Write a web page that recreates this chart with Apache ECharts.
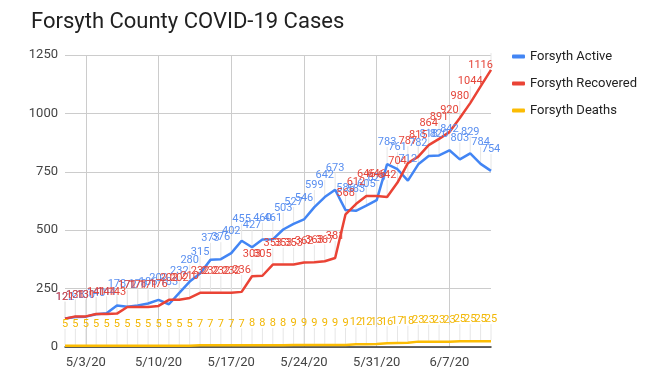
<!DOCTYPE html>
<html><head><meta charset="utf-8">
<script src="https://cdn.jsdelivr.net/npm/echarts@6/dist/echarts.min.js"></script>
<style>html,body{margin:0;padding:0;background:#fff}#c{width:650px;height:391px}</style>
</head><body><div id="c"></div>
<script>
const dates = ['5/1/20','5/2/20','5/3/20','5/4/20','5/5/20','5/6/20','5/7/20','5/8/20','5/9/20','5/10/20',
  '5/11/20','5/12/20','5/13/20','5/14/20','5/15/20','5/16/20','5/17/20','5/18/20','5/19/20','5/20/20',
  '5/21/20','5/22/20','5/23/20','5/24/20','5/25/20','5/26/20','5/27/20','5/28/20','5/29/20','5/30/20',
  '5/31/20','6/1/20','6/2/20','6/3/20','6/4/20','6/5/20','6/6/20','6/7/20','6/8/20','6/9/20','6/10/20','6/11/20'];
const active = [122,128,130,140,144,178,172,178,186,202,
  183,232,280,315,373,376,402,455,427,460,
  461,503,527,546,599,642,673,586,583,605,
  629,783,761,712,782,818,820,842,803,829,784,754];
const recovered = [121,131,131,141,141,143,171,171,171,176,
  202,202,210,232,232,232,232,236,303,305,
  353,353,353,362,363,367,381,568,612,646,
  646,642,704,787,815,864,891,920,980,1044,1116,1186];
const deaths = [5,5,5,5,5,5,5,5,5,5,
  5,5,5,7,7,7,7,7,8,8,
  8,8,9,9,9,9,9,9,12,12,
  13,16,17,18,23,23,23,23,25,25,25,25];
const yTicks = [0,250,500,750,1000,1250];
const seriesNames = ['Forsyth Active','Forsyth Recovered','Forsyth Deaths'];
const colors = ['#4285F4','#EA4335','#FBBC04'];
const labelColors = ['#5a8ff0','#e5453a','#f2b705'];
const FONT = 'Roboto';

const chart = echarts.init(document.getElementById('c'), null, {renderer:'canvas'});
const weekly = (i) => (i - 2) % 7 === 0;

function stem(values){
  return {
    type:'custom', silent:true, z:1,
    data: values.map((v,i)=>[i,v]),
    encode:{x:0,y:1},
    renderItem:(params, api)=>{
      const p = api.coord([api.value(0), api.value(1)]);
      return {type:'line', shape:{x1:p[0], y1:p[1]-1, x2:p[0], y2:p[1]-17},
        style:{stroke:'#e6e6e6', lineWidth:1}};
    }
  };
}
function lineSeries(k, values, hideLast){
  return {
    name: seriesNames[k], type:'line', z:3,
    data: values.map((v,i)=> (hideLast && i === values.length-1) ? {value:v, label:{show:false}} : v),
    showSymbol:true, showAllSymbol:true, symbol:'circle', symbolSize:0.01,
    lineStyle:{color:colors[k], width:2.5},
    itemStyle:{color:colors[k]},
    label:{show:true, position:'top', distance:16, color:labelColors[k], fontSize:11, fontFamily:FONT},
    labelLayout:{hideOverlap:false},
    emphasis:{disabled:true}, animation:false
  };
}

chart.setOption({
  animation:false,
  title:{text:'Forsyth County COVID-19 Cases', left:26, top:6,
    textStyle:{fontSize:22, fontWeight:'normal', color:'#212121', fontFamily:FONT}},
  legend:{data:seriesNames, orient:'vertical', left:507, top:45, itemGap:14,
    icon:'roundRect', itemWidth:13, itemHeight:4,
    textStyle:{fontSize:13, color:'#222', fontFamily:FONT}},
  grid:{left:65, right:159, top:55, bottom:44},
  xAxis:{type:'category', data:dates, boundaryGap:false,
    axisLine:{show:true, lineStyle:{color:'#333', width:1.5}},
    axisTick:{show:false},
    axisLabel:{interval:weekly, color:'#444', fontSize:13, fontFamily:FONT, margin:9},
    splitLine:{show:true, interval:weekly, lineStyle:{color:'#ccc', width:1}}},
  yAxis:{type:'value', min:yTicks[0], max:yTicks[yTicks.length-1], interval:250,
    axisLine:{show:false}, axisTick:{show:false},
    axisLabel:{color:'#444', fontSize:13, fontFamily:FONT, margin:7, formatter:(v)=>String(v)},
    splitLine:{lineStyle:{color:'#ccc', width:1}}},
  series:[
    stem(active), stem(recovered), stem(deaths),
    lineSeries(0, active, false),
    lineSeries(1, recovered, true),
    lineSeries(2, deaths, false)
  ]
});
</script></body></html>
